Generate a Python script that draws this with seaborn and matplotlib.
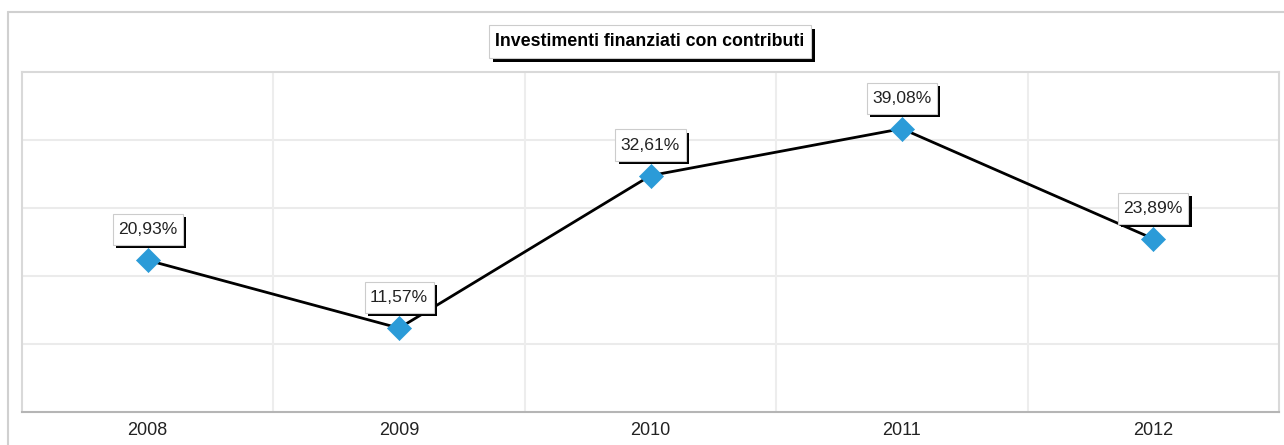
import matplotlib
matplotlib.use("Agg")
import matplotlib.pyplot as plt
import matplotlib.patheffects as pe
from matplotlib.lines import Line2D
from matplotlib.path import Path
import numpy as np
import pandas as pd
import seaborn as sns

# ---- data ----
years = ["2008", "2009", "2010", "2011", "2012"]
values = [20.93, 11.57, 32.61, 39.08, 23.89]
labels = ["20,93%", "11,57%", "32,61%", "39,08%", "23,89%"]
title = "Investimenti finanziati con contributi"

df = pd.DataFrame({"anno": years, "valore": values})

sns.set_theme(style="white")
plt.rcParams["font.family"] = ["Liberation Sans", "DejaVu Sans"]

W, H = 1284, 445
fig = plt.figure(figsize=(W / 100, H / 100), dpi=100)
fig.patch.set_facecolor("white")


def make_box(padx, pady):
    def box(x0, y0, width, height, mutation_size):
        px = padx * mutation_size
        py = pady * mutation_size
        xa, ya = x0 - px, y0 - py
        xb, yb = x0 + width + px, y0 + height + py
        return Path([(xa, ya), (xb, ya), (xb, yb), (xa, yb), (xa, ya)], closed=True)
    return box


left, right, top, bottom = 22, 1279, 72, 412
ax = fig.add_axes([left / W, (H - bottom) / H, (right - left) / W, (bottom - top) / H])
ax.set_facecolor("white")

sns.lineplot(data=df, x="anno", y="valore", color="black", linewidth=2.0,
             sort=False, ax=ax, zorder=3)
sns.scatterplot(data=df, x="anno", y="valore", marker="D", s=150,
                color="#2b9bd8", edgecolor="#2b9bd8", linewidth=0.5, ax=ax, zorder=4)

ymax = 46.9
ax.set_ylim(0, ymax)
ax.set_xlim(-0.5, len(years) - 0.5)
ax.set_yticks(np.linspace(0, ymax, 6))
ax.set_yticklabels([])
ax.set_xticks(range(len(years)))
ax.set_xticklabels(years, fontsize=13, color="#222222")
ax.tick_params(axis="both", length=0, pad=7)
ax.set_xlabel("")
ax.set_ylabel("")

# grid: horizontal at y ticks, vertical at category boundaries
for yv in np.linspace(0, ymax, 6)[1:-1]:
    ax.axhline(yv, color="#ebebeb", linewidth=1.5, zorder=0)
for xv in np.arange(0.5, len(years) - 0.5, 1.0):
    ax.axvline(xv, color="#ededed", linewidth=1.5, zorder=0)

for side in ["top", "right", "left"]:
    ax.spines[side].set_color("#d9d9d9")
    ax.spines[side].set_linewidth(1.5)
ax.spines["bottom"].set_color("#b5b5b5")
ax.spines["bottom"].set_linewidth(1.5)

shadow = [pe.withSimplePatchShadow(offset=(2.3, -2.3), shadow_rgbFace="black", alpha=1.0)]

for i, (v, lab) in enumerate(zip(values, labels)):
    t = ax.annotate(lab, xy=(i, v), xytext=(0, 22), textcoords="offset points",
                    ha="center", va="center", fontsize=12.6, color="#222222",
                    bbox=dict(boxstyle=make_box(0.31, 0.46), facecolor="white",
                              edgecolor="#cccccc", linewidth=0.8),
                    zorder=6)
    t.get_bbox_patch().set_path_effects(shadow)

tt = fig.text(650 / W, 1 - 41 / H, title, ha="center", va="center",
              fontsize=12.8, fontweight="bold", color="black",
              bbox=dict(boxstyle=make_box(0.37, 0.45), facecolor="white",
                        edgecolor="#cccccc", linewidth=0.8))
tt.get_bbox_patch().set_path_effects(
    [pe.withSimplePatchShadow(offset=(2.9, -2.9), shadow_rgbFace="black", alpha=1.0)])

# outer frame lines
fig.add_artist(Line2D([8 / W, 1.0], [1 - 12 / H, 1 - 12 / H], color="#d0d0d0", linewidth=1.5))
fig.add_artist(Line2D([8 / W, 8 / W], [0.0, 1 - 12 / H], color="#d0d0d0", linewidth=1.5))

fig.savefig("out.png", dpi=100, facecolor="white")
